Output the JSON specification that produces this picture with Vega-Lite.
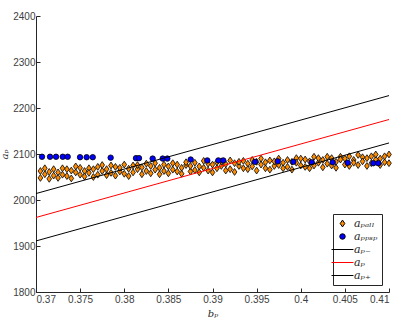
{
  "$schema": "https://vega.github.io/schema/vega-lite/v6.json",
  "autosize": {"type": "none"},
  "width": 353,
  "height": 276,
  "padding": {"left": 36, "top": 16, "right": 18, "bottom": 30},
  "background": "white",
  "config": {
    "view": {"stroke": null},
    "axis": {
      "grid": false,
      "domainColor": "#262626",
      "tickColor": "#262626",
      "labelColor": "#404040",
      "labelFont": "Liberation Sans",
      "labelFontSize": 10,
      "tickSize": -4,
      "titleFont": "DejaVu Serif",
      "titleFontStyle": "italic",
      "titleFontWeight": "normal",
      "titleFontSize": 10,
      "titleColor": "#262626"
    },
    "legend": {
      "orient": "bottom-right",
      "offset": 7,
      "strokeColor": "#262626",
      "fillColor": "white",
      "padding": 4,
      "rowPadding": 1,
      "symbolSize": 30,
      "symbolStrokeWidth": 1,
      "labelFont": "DejaVu Serif",
      "labelFontStyle": "italic",
      "labelFontSize": 11,
      "labelColor": "#262626",
      "labelOffset": 6
    }
  },
  "datasets": {
    "pts": [
      {"b":0.3705,"a":2048,"s":"aₚₐₗₗ"},{"b":0.3705,"a":2063,"s":"aₚₐₗₗ"},
      {"b":0.3710,"a":2056,"s":"aₚₐₗₗ"},{"b":0.3710,"a":2069,"s":"aₚₐₗₗ"},
      {"b":0.3715,"a":2046,"s":"aₚₐₗₗ"},{"b":0.3715,"a":2061,"s":"aₚₐₗₗ"},
      {"b":0.3720,"a":2067,"s":"aₚₐₗₗ"},{"b":0.3720,"a":2053,"s":"aₚₐₗₗ"},
      {"b":0.3725,"a":2060,"s":"aₚₐₗₗ"},{"b":0.3725,"a":2048,"s":"aₚₐₗₗ"},
      {"b":0.3730,"a":2069,"s":"aₚₐₗₗ"},{"b":0.3730,"a":2055,"s":"aₚₐₗₗ"},
      {"b":0.3735,"a":2052,"s":"aₚₐₗₗ"},{"b":0.3735,"a":2067,"s":"aₚₐₗₗ"},
      {"b":0.3740,"a":2064,"s":"aₚₐₗₗ"},{"b":0.3740,"a":2047,"s":"aₚₐₗₗ"},
      {"b":0.3745,"a":2073,"s":"aₚₐₗₗ"},{"b":0.3745,"a":2060,"s":"aₚₐₗₗ"},
      {"b":0.3750,"a":2055,"s":"aₚₐₗₗ"},{"b":0.3750,"a":2070,"s":"aₚₐₗₗ"},
      {"b":0.3755,"a":2063,"s":"aₚₐₗₗ"},{"b":0.3755,"a":2051,"s":"aₚₐₗₗ"},
      {"b":0.3760,"a":2069,"s":"aₚₐₗₗ"},{"b":0.3760,"a":2059,"s":"aₚₐₗₗ"},
      {"b":0.3765,"a":2050,"s":"aₚₐₗₗ"},{"b":0.3765,"a":2067,"s":"aₚₐₗₗ"},
      {"b":0.3770,"a":2072,"s":"aₚₐₗₗ"},{"b":0.3770,"a":2055,"s":"aₚₐₗₗ"},
      {"b":0.3775,"a":2063,"s":"aₚₐₗₗ"},{"b":0.3775,"a":2076,"s":"aₚₐₗₗ"},
      {"b":0.3780,"a":2054,"s":"aₚₐₗₗ"},{"b":0.3780,"a":2067,"s":"aₚₐₗₗ"},
      {"b":0.3785,"a":2059,"s":"aₚₐₗₗ"},{"b":0.3785,"a":2075,"s":"aₚₐₗₗ"},
      {"b":0.3790,"a":2072,"s":"aₚₐₗₗ"},{"b":0.3790,"a":2053,"s":"aₚₐₗₗ"},
      {"b":0.3795,"a":2062,"s":"aₚₐₗₗ"},{"b":0.3795,"a":2070,"s":"aₚₐₗₗ"},
      {"b":0.3800,"a":2077,"s":"aₚₐₗₗ"},{"b":0.3800,"a":2057,"s":"aₚₐₗₗ"},
      {"b":0.3805,"a":2068,"s":"aₚₐₗₗ"},{"b":0.3805,"a":2052,"s":"aₚₐₗₗ"},
      {"b":0.3810,"a":2060,"s":"aₚₐₗₗ"},{"b":0.3810,"a":2075,"s":"aₚₐₗₗ"},
      {"b":0.3815,"a":2067,"s":"aₚₐₗₗ"},{"b":0.3815,"a":2076,"s":"aₚₐₗₗ"},
      {"b":0.3820,"a":2056,"s":"aₚₐₗₗ"},{"b":0.3820,"a":2071,"s":"aₚₐₗₗ"},
      {"b":0.3825,"a":2063,"s":"aₚₐₗₗ"},{"b":0.3825,"a":2079,"s":"aₚₐₗₗ"},
      {"b":0.3830,"a":2074,"s":"aₚₐₗₗ"},{"b":0.3830,"a":2058,"s":"aₚₐₗₗ"},
      {"b":0.3835,"a":2066,"s":"aₚₐₗₗ"},{"b":0.3835,"a":2080,"s":"aₚₐₗₗ"},
      {"b":0.3840,"a":2056,"s":"aₚₐₗₗ"},{"b":0.3840,"a":2070,"s":"aₚₐₗₗ"},
      {"b":0.3845,"a":2077,"s":"aₚₐₗₗ"},{"b":0.3845,"a":2063,"s":"aₚₐₗₗ"},
      {"b":0.3850,"a":2073,"s":"aₚₐₗₗ"},{"b":0.3850,"a":2058,"s":"aₚₐₗₗ"},
      {"b":0.3855,"a":2080,"s":"aₚₐₗₗ"},{"b":0.3855,"a":2066,"s":"aₚₐₗₗ"},
      {"b":0.3860,"a":2062,"s":"aₚₐₗₗ"},{"b":0.3860,"a":2077,"s":"aₚₐₗₗ"},
      {"b":0.3865,"a":2070,"s":"aₚₐₗₗ"},{"b":0.3865,"a":2057,"s":"aₚₐₗₗ"},
      {"b":0.3870,"a":2076,"s":"aₚₐₗₗ"},{"b":0.3870,"a":2082,"s":"aₚₐₗₗ"},
      {"b":0.3875,"a":2062,"s":"aₚₐₗₗ"},{"b":0.3875,"a":2074,"s":"aₚₐₗₗ"},
      {"b":0.3880,"a":2065,"s":"aₚₐₗₗ"},{"b":0.3880,"a":2081,"s":"aₚₐₗₗ"},
      {"b":0.3885,"a":2073,"s":"aₚₐₗₗ"},{"b":0.3885,"a":2060,"s":"aₚₐₗₗ"},
      {"b":0.3890,"a":2085,"s":"aₚₐₗₗ"},{"b":0.3890,"a":2070,"s":"aₚₐₗₗ"},
      {"b":0.3895,"a":2064,"s":"aₚₐₗₗ"},{"b":0.3895,"a":2079,"s":"aₚₐₗₗ"},
      {"b":0.3900,"a":2077,"s":"aₚₐₗₗ"},{"b":0.3900,"a":2060,"s":"aₚₐₗₗ"},
      {"b":0.3905,"a":2082,"s":"aₚₐₗₗ"},{"b":0.3905,"a":2069,"s":"aₚₐₗₗ"},
      {"b":0.3910,"a":2074,"s":"aₚₐₗₗ"},{"b":0.3910,"a":2084,"s":"aₚₐₗₗ"},
      {"b":0.3915,"a":2064,"s":"aₚₐₗₗ"},{"b":0.3915,"a":2078,"s":"aₚₐₗₗ"},
      {"b":0.3920,"a":2067,"s":"aₚₐₗₗ"},{"b":0.3920,"a":2086,"s":"aₚₐₗₗ"},
      {"b":0.3925,"a":2080,"s":"aₚₐₗₗ"},{"b":0.3925,"a":2061,"s":"aₚₐₗₗ"},
      {"b":0.3930,"a":2074,"s":"aₚₐₗₗ"},{"b":0.3930,"a":2083,"s":"aₚₐₗₗ"},
      {"b":0.3935,"a":2085,"s":"aₚₐₗₗ"},{"b":0.3935,"a":2069,"s":"aₚₐₗₗ"},
      {"b":0.3940,"a":2079,"s":"aₚₐₗₗ"},{"b":0.3940,"a":2067,"s":"aₚₐₗₗ"},
      {"b":0.3945,"a":2087,"s":"aₚₐₗₗ"},{"b":0.3945,"a":2073,"s":"aₚₐₗₗ"},
      {"b":0.3950,"a":2064,"s":"aₚₐₗₗ"},{"b":0.3950,"a":2083,"s":"aₚₐₗₗ"},
      {"b":0.3955,"a":2077,"s":"aₚₐₗₗ"},{"b":0.3955,"a":2090,"s":"aₚₐₗₗ"},
      {"b":0.3960,"a":2069,"s":"aₚₐₗₗ"},{"b":0.3960,"a":2082,"s":"aₚₐₗₗ"},
      {"b":0.3965,"a":2086,"s":"aₚₐₗₗ"},{"b":0.3965,"a":2066,"s":"aₚₐₗₗ"},
      {"b":0.3970,"a":2074,"s":"aₚₐₗₗ"},{"b":0.3970,"a":2084,"s":"aₚₐₗₗ"},
      {"b":0.3975,"a":2090,"s":"aₚₐₗₗ"},{"b":0.3975,"a":2076,"s":"aₚₐₗₗ"},
      {"b":0.3980,"a":2081,"s":"aₚₐₗₗ"},{"b":0.3980,"a":2069,"s":"aₚₐₗₗ"},
      {"b":0.3985,"a":2087,"s":"aₚₐₗₗ"},{"b":0.3985,"a":2072,"s":"aₚₐₗₗ"},
      {"b":0.3990,"a":2066,"s":"aₚₐₗₗ"},{"b":0.3990,"a":2083,"s":"aₚₐₗₗ"},
      {"b":0.3995,"a":2091,"s":"aₚₐₗₗ"},{"b":0.3995,"a":2081,"s":"aₚₐₗₗ"},
      {"b":0.4000,"a":2075,"s":"aₚₐₗₗ"},{"b":0.4000,"a":2090,"s":"aₚₐₗₗ"},
      {"b":0.4005,"a":2072,"s":"aₚₐₗₗ"},{"b":0.4005,"a":2088,"s":"aₚₐₗₗ"},
      {"b":0.4010,"a":2084,"s":"aₚₐₗₗ"},{"b":0.4010,"a":2069,"s":"aₚₐₗₗ"},
      {"b":0.4015,"a":2094,"s":"aₚₐₗₗ"},{"b":0.4015,"a":2075,"s":"aₚₐₗₗ"},
      {"b":0.4020,"a":2081,"s":"aₚₐₗₗ"},{"b":0.4020,"a":2091,"s":"aₚₐₗₗ"},
      {"b":0.4025,"a":2087,"s":"aₚₐₗₗ"},{"b":0.4025,"a":2071,"s":"aₚₐₗₗ"},
      {"b":0.4030,"a":2079,"s":"aₚₐₗₗ"},{"b":0.4030,"a":2094,"s":"aₚₐₗₗ"},
      {"b":0.4035,"a":2091,"s":"aₚₐₗₗ"},{"b":0.4035,"a":2075,"s":"aₚₐₗₗ"},
      {"b":0.4040,"a":2083,"s":"aₚₐₗₗ"},{"b":0.4040,"a":2070,"s":"aₚₐₗₗ"},
      {"b":0.4045,"a":2094,"s":"aₚₐₗₗ"},{"b":0.4045,"a":2088,"s":"aₚₐₗₗ"},
      {"b":0.4050,"a":2077,"s":"aₚₐₗₗ"},{"b":0.4050,"a":2090,"s":"aₚₐₗₗ"},
      {"b":0.4055,"a":2074,"s":"aₚₐₗₗ"},{"b":0.4055,"a":2095,"s":"aₚₐₗₗ"},
      {"b":0.4060,"a":2087,"s":"aₚₐₗₗ"},{"b":0.4060,"a":2081,"s":"aₚₐₗₗ"},
      {"b":0.4065,"a":2098,"s":"aₚₐₗₗ"},{"b":0.4065,"a":2076,"s":"aₚₐₗₗ"},
      {"b":0.4070,"a":2093,"s":"aₚₐₗₗ"},{"b":0.4070,"a":2084,"s":"aₚₐₗₗ"},
      {"b":0.4075,"a":2074,"s":"aₚₐₗₗ"},{"b":0.4075,"a":2091,"s":"aₚₐₗₗ"},
      {"b":0.4080,"a":2095,"s":"aₚₐₗₗ"},{"b":0.4080,"a":2080,"s":"aₚₐₗₗ"},
      {"b":0.4085,"a":2088,"s":"aₚₐₗₗ"},{"b":0.4085,"a":2099,"s":"aₚₐₗₗ"},
      {"b":0.4090,"a":2076,"s":"aₚₐₗₗ"},{"b":0.4090,"a":2090,"s":"aₚₐₗₗ"},
      {"b":0.4095,"a":2082,"s":"aₚₐₗₗ"},{"b":0.4095,"a":2095,"s":"aₚₐₗₗ"},
      {"b":0.4100,"a":2099,"s":"aₚₐₗₗ"},{"b":0.4100,"a":2080,"s":"aₚₐₗₗ"},
      {"b":0.37068,"a":2094,"s":"aₚₚₛₚ"},{"b":0.37159,"a":2094,"s":"aₚₚₛₚ"},
      {"b":0.37227,"a":2094,"s":"aₚₚₛₚ"},{"b":0.37303,"a":2094,"s":"aₚₚₛₚ"},
      {"b":0.37359,"a":2094,"s":"aₚₚₛₚ"},{"b":0.37499,"a":2093,"s":"aₚₚₛₚ"},
      {"b":0.37574,"a":2093,"s":"aₚₚₛₚ"},{"b":0.37643,"a":2093,"s":"aₚₚₛₚ"},
      {"b":0.37846,"a":2092,"s":"aₚₚₛₚ"},{"b":0.38133,"a":2091,"s":"aₚₚₛₚ"},
      {"b":0.38167,"a":2091,"s":"aₚₚₛₚ"},{"b":0.38322,"a":2090,"s":"aₚₚₛₚ"},
      {"b":0.38436,"a":2090,"s":"aₚₚₛₚ"},{"b":0.38488,"a":2090,"s":"aₚₚₛₚ"},
      {"b":0.38753,"a":2088,"s":"aₚₚₛₚ"},{"b":0.38941,"a":2086,"s":"aₚₚₛₚ"},
      {"b":0.39066,"a":2086,"s":"aₚₚₛₚ"},{"b":0.39122,"a":2086,"s":"aₚₚₛₚ"},
      {"b":0.39482,"a":2083,"s":"aₚₚₛₚ"},{"b":0.39739,"a":2084,"s":"aₚₚₛₚ"},
      {"b":0.39916,"a":2083,"s":"aₚₚₛₚ"},{"b":0.40124,"a":2082,"s":"aₚₚₛₚ"},
      {"b":0.40362,"a":2082,"s":"aₚₚₛₚ"},{"b":0.40532,"a":2081,"s":"aₚₚₛₚ"},
      {"b":0.40822,"a":2080,"s":"aₚₚₛₚ"},{"b":0.40879,"a":2080,"s":"aₚₚₛₚ"}
    ],
    "lines": [
      {"b":0.37,"a":1911,"s":"aₚ₋"},{"b":0.41,"a":2124,"s":"aₚ₋"},
      {"b":0.37,"a":1962,"s":"aₚ"},{"b":0.41,"a":2175,"s":"aₚ"},
      {"b":0.37,"a":2014,"s":"aₚ₊"},{"b":0.41,"a":2227,"s":"aₚ₊"}
    ]
  },
  "layer": [
    {
      "data": {"name": "pts"},
      "mark": {"type": "point", "filled": true, "size": 30, "strokeWidth": 0.8, "opacity": 1},
      "encoding": {
        "x": {"field": "b", "type": "quantitative",
              "scale": {"domain": [0.37, 0.41], "nice": false, "zero": false},
              "axis": {"title": "bₚ", "values": [0.37,0.375,0.38,0.385,0.39,0.395,0.4,0.405,0.41], "format": "~g", "labelPadding": 6, "titlePadding": 4}},
        "y": {"field": "a", "type": "quantitative",
              "scale": {"domain": [1800, 2400], "nice": false, "zero": false},
              "axis": {"title": "aₚ", "values": [1800,1900,2000,2100,2200,2300,2400], "format": "d", "labelPadding": 5, "titlePadding": 3}},
        "fill": {"field": "s", "type": "nominal",
                 "scale": {"domain": ["aₚₐₗₗ","aₚₚₛₚ","aₚ₋","aₚ","aₚ₊"], "range": ["#FF8C00","#0000FF","transparent","transparent","transparent"]},
                 "legend": {"title": null}},
        "stroke": {"field": "s", "type": "nominal",
                   "scale": {"domain": ["aₚₐₗₗ","aₚₚₛₚ","aₚ₋","aₚ","aₚ₊"], "range": ["#000000","#000000","#000000","#FF0000","#000000"]},
                   "legend": {"title": null}},
        "shape": {"field": "s", "type": "nominal",
                  "scale": {"domain": ["aₚₐₗₗ","aₚₚₛₚ","aₚ₋","aₚ","aₚ₊"], "range": ["M0,-1.25L0.85,0L0,1.25L-0.85,0Z","circle","M-4,0H4","M-4,0H4","M-4,0H4"]},
                  "legend": {"title": null}}
      }
    },
    {
      "data": {"name": "lines"},
      "mark": {"type": "line", "strokeWidth": 1},
      "encoding": {
        "x": {"field": "b", "type": "quantitative"},
        "y": {"field": "a", "type": "quantitative"},
        "stroke": {"field": "s", "type": "nominal", "legend": {"title": null}}
      }
    }
  ]
}
